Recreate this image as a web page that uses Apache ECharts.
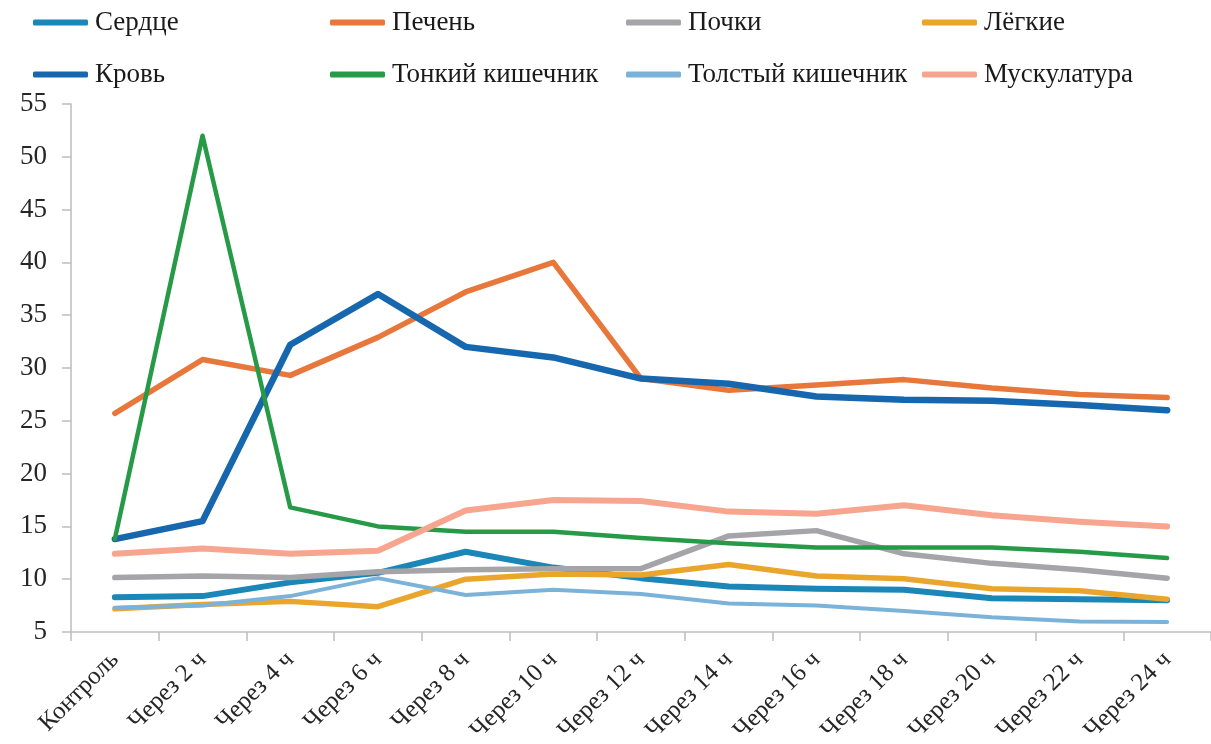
<!DOCTYPE html>
<html>
<head>
<meta charset="utf-8">
<style>
  html, body { margin: 0; padding: 0; background: #fff; }
  #chart { width: 1211px; height: 744px; }
</style>
<script src="https://cdn.jsdelivr.net/npm/echarts@6/dist/echarts.min.js"></script>
</head>
<body>
<div id="chart"></div>
<script>
// Time points of sampling
const categories = ['Контроль', 'Через 2 ч', 'Через 4 ч', 'Через 6 ч', 'Через 8 ч', 'Через 10 ч',
  'Через 12 ч', 'Через 14 ч', 'Через 16 ч', 'Через 18 ч', 'Через 20 ч', 'Через 22 ч', 'Через 24 ч'];

// Values per organ / tissue
const serdce   = [8.3, 8.4, 9.7, 10.6, 12.6, 11.1, 10.1, 9.3, 9.1, 9.0, 8.2, 8.1, 8.0];
const pechen   = [25.7, 30.8, 29.3, 32.9, 37.2, 40.0, 29.0, 27.9, 28.4, 28.9, 28.1, 27.5, 27.2];
const pochki   = [10.15, 10.3, 10.15, 10.7, 10.9, 11.0, 11.0, 14.1, 14.6, 12.4, 11.5, 10.9, 10.1];
const legkie   = [7.2, 7.6, 7.9, 7.4, 10.0, 10.5, 10.4, 11.4, 10.3, 10.05, 9.1, 8.9, 8.1];
const krov     = [13.8, 15.5, 32.2, 37.0, 32.0, 31.0, 29.0, 28.5, 27.3, 27.0, 26.9, 26.5, 26.0];
const tonkiy   = [13.8, 52.0, 16.8, 15.0, 14.5, 14.5, 13.9, 13.4, 13.0, 13.0, 13.0, 12.6, 12.0];
const tolstyy  = [7.3, 7.5, 8.4, 10.1, 8.5, 9.0, 8.6, 7.7, 7.5, 7.0, 6.4, 6.0, 5.95];
const muskul   = [12.4, 12.9, 12.4, 12.7, 16.5, 17.5, 17.4, 16.4, 16.2, 17.0, 16.05, 15.45, 15.0];

const yTicks = { min: 5, max: 55, interval: 5 };

const seriesDefs = [
  { name: 'Сердце',            data: serdce,  color: '#1b87b9', width: 6 },
  { name: 'Печень',            data: pechen,  color: '#e8773b', width: 5.5 },
  { name: 'Почки',             data: pochki,  color: '#a5a5a9', width: 5.5 },
  { name: 'Лёгкие',            data: legkie,  color: '#eaa62b', width: 5.5 },
  { name: 'Кровь',             data: krov,    color: '#1667ad', width: 6.5 },
  { name: 'Тонкий кишечник',   data: tonkiy,  color: '#279a48', width: 4.5 },
  { name: 'Толстый кишечник',  data: tolstyy, color: '#7bb2d9', width: 4 },
  { name: 'Мускулатура',       data: muskul,  color: '#f7a58e', width: 6 }
];

// Legend laid out as a 4 x 2 table
const legendCols = [33, 330, 626, 922];
const legendRows = [9, 61];
const FONT = '"Liberation Serif", "Times New Roman", serif';

const legends = seriesDefs.map((s, i) => ({
  data: [s.name],
  left: legendCols[i % 4],
  top: legendRows[Math.floor(i / 4)],
  icon: 'roundRect',
  itemWidth: 55,
  itemHeight: 6,
  itemGap: 0,
  padding: 0,
  textStyle: { fontFamily: FONT, fontSize: 27, color: '#1a1a1a', padding: [0, 0, 0, 2] },
  selectedMode: false
}));

const chart = echarts.init(document.getElementById('chart'), null, { renderer: 'canvas' });
chart.setOption({
  animation: false,
  backgroundColor: '#ffffff',
  legend: legends,
  grid: { left: 71, right: 0, top: 104, bottom: 112, outerBoundsMode: 'none' },
  xAxis: {
    type: 'category',
    data: categories,
    boundaryGap: true,
    axisLine: { lineStyle: { color: '#bdbdbd', width: 1.5 } },
    axisTick: { show: true, length: 9, alignWithLabel: false, lineStyle: { color: '#bdbdbd', width: 1.5 } },
    axisLabel: {
      rotate: 45, interval: 0, margin: 24,
      fontFamily: FONT, fontSize: 25, color: '#262626'
    },
    splitLine: { show: false }
  },
  yAxis: {
    type: 'value',
    min: yTicks.min, max: yTicks.max, interval: yTicks.interval,
    axisLine: { show: true, lineStyle: { color: '#bdbdbd', width: 1.5 } },
    axisTick: { show: true, length: 9, lineStyle: { color: '#bdbdbd', width: 1.5 } },
    axisLabel: { margin: 24, fontFamily: FONT, fontSize: 27, color: '#262626' },
    splitLine: { show: false }
  },
  series: seriesDefs.map(s => ({
    name: s.name,
    type: 'line',
    data: s.data,
    symbol: 'none',
    color: s.color,
    lineStyle: { color: s.color, width: s.width, cap: 'round', join: 'round' }
  }))
});
</script>
</body>
</html>
